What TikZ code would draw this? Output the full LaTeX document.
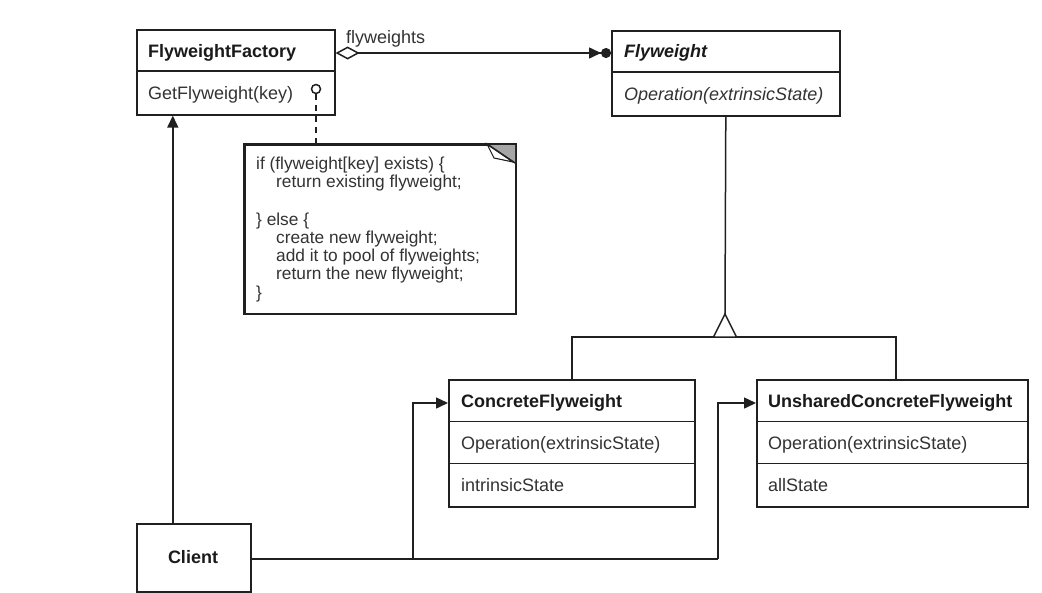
\documentclass[tikz,border=0pt]{standalone}
\usepackage{fontspec}
\setmainfont{Liberation Sans}
\usetikzlibrary{arrows.meta}
\definecolor{ln}{HTML}{202020}
\definecolor{tx}{HTML}{1A1A1A}
\definecolor{tn}{HTML}{333333}
\definecolor{fold}{HTML}{A6A6A6}
\begin{document}
\begin{tikzpicture}[x=1pt,y=-1pt,
  box/.style={draw=ln, line width=1.6pt, inner sep=0pt, anchor=north west, fill=white},
  ttl/.style={anchor=base west, inner sep=0pt, text=tx, font=\fontsize{18}{20}\selectfont\bfseries},
  opx/.style={anchor=base west, inner sep=0pt, text=tn, font=\fontsize{18}{20}\selectfont},
  nt/.style={anchor=base west, inner sep=0pt, text=tn, font=\fontsize{17.3}{18}\selectfont},
  wire/.style={draw=ln, line width=1.5pt},
  arr/.style={wire, -{Triangle[length=12pt,width=11pt]}},
]
\useasboundingbox (0,0) rectangle (1042,592);
\fill[white] (0,0) rectangle (1042,592);

% ---- class boxes
\node[box, minimum width=198pt, minimum height=85pt] (ff) at (136,29) {};
\draw[wire] (ff.west |- 0,71) -- (ff.east |- 0,71);
\node[box, minimum width=228pt, minimum height=85pt] (fw) at (611,30) {};
\draw[wire] (fw.west |- 0,72) -- (fw.east |- 0,72);
\node[box, minimum width=246pt, minimum height=127pt] (cf) at (448,379) {};
\draw[wire] (cf.west |- 0,421.5) -- (cf.east |- 0,421.5);
\draw[wire] (cf.west |- 0,463.5) -- (cf.east |- 0,463.5);
\node[box, minimum width=271pt, minimum height=127pt] (ucf) at (756,379) {};
\draw[wire] (ucf.west |- 0,421.5) -- (ucf.east |- 0,421.5);
\draw[wire] (ucf.west |- 0,463.5) -- (ucf.east |- 0,463.5);
\node[box, minimum width=114pt, minimum height=68pt] (cl) at (136,523) {};

% ---- note
\node[box, minimum width=271pt, minimum height=169pt] (note) at (244,144) {};
\fill[fold] (487,144) -- (515,144) -- (515,163) -- cycle;
\draw[draw=ln, line width=1.1pt, fill=white] (487,144) -- (494,158) -- (513,162) -- cycle;
\draw[wire] (487,144) -- (515,163);
\draw[draw=ln, line width=1.6pt] (note.north west) rectangle (note.south east);

% ---- texts
\node[ttl] (tff) at (148,57) {FlyweightFactory};
\node[opx] (tgf) at (148,99) {GetFlyweight(key)};
\node[ttl, font=\fontsize{18}{20}\selectfont\bfseries\itshape] (tfw) at (624,57) {Flyweight};
\node[opx, font=\fontsize{18}{20}\selectfont\itshape] (tfo) at (624,100) {Operation(extrinsicState)};
\node[ttl] (tcf) at (461,407) {ConcreteFlyweight};
\node[opx] (tcfo) at (461,449) {Operation(extrinsicState)};
\node[opx] (tcfs) at (461,491) {intrinsicState};
\node[ttl] (tucf) at (768,407) {UnsharedConcreteFlyweight};
\node[opx] (tucfo) at (768,449) {Operation(extrinsicState)};
\node[opx] (tucfs) at (768,491) {allState};
\node[ttl, anchor=center] (tcl) at (193,557) {Client};
\node[opx] (tfl) at (346,43) {flyweights};

\node[nt] (n1) at (256,169) {if (flyweight[key] exists) \{};
\node[nt] (n2) at (276,187) {return existing flyweight;};
\node[nt] (n3) at (256,225) {\} else \{};
\node[nt] (n4) at (276,243) {create new flyweight;};
\node[nt] (n5) at (276,261) {add it to pool of flyweights;};
\node[nt] (n6) at (276,279) {return the new flyweight;};
\node[nt] (n7) at (256,298) {\}};

% ---- lollipop and note link
\node[circle, draw=ln, line width=1.5pt, minimum size=9pt, inner sep=0pt, fill=white] (lol) at (316,89) {};
\draw[wire, dash pattern=on 6pt off 5pt] (lol.south) -- (lol.south |- note.north);

% ---- aggregation
\draw[wire, {Diamond[open, length=24pt, width=13pt]}-{Triangle[length=12pt,width=11pt,sep=0pt] Circle[length=10pt,sep=0pt]}]
  ([yshift=-24pt]ff.north east) -- ([yshift=-24pt]ff.north east -| fw.west);

% ---- inheritance
\coordinate (hub) at (725,337);
\coordinate (apex) at (725,314);
\draw[wire] (cf.north) -- (cf.north |- hub) -- ([xshift=3.5pt]ucf.north |- hub) -- ([xshift=3.5pt]ucf.north);
\draw[wire] (fw.south) -- (apex);
\draw[wire, fill=white, line join=miter] ([xshift=-11.5pt]hub) -- (apex) -- ([xshift=11.5pt]hub) -- cycle;

% ---- client links
\coordinate (j1) at (413,559);
\coordinate (j2) at (718,559);
\draw[wire] (cl.east |- j1) -- (j2);
\draw[arr] (j1) |- ([yshift=-24pt]cf.north west);
\draw[arr] (j2) |- ([yshift=-24pt]ucf.north west);
\draw[arr] ([xshift=-21pt]cl.north) -- ([xshift=-21pt]cl.north |- ff.south);
\end{tikzpicture}
\end{document}
